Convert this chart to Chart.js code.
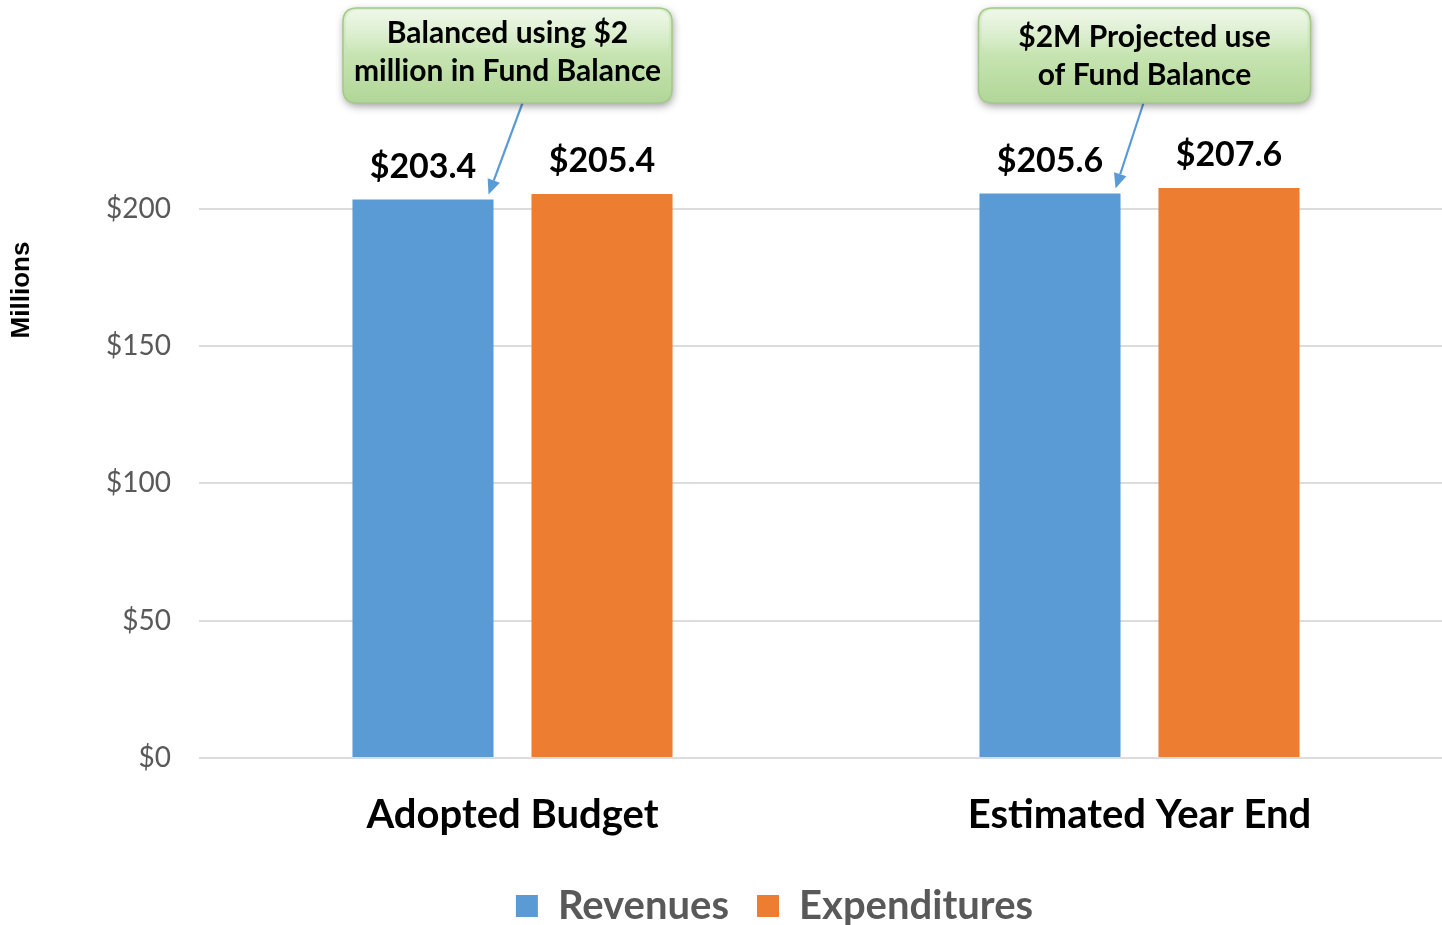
<!DOCTYPE html>
<html>
<head>
<meta charset="utf-8">
<script src="https://cdn.jsdelivr.net/npm/chart.js@4.4.1/dist/chart.umd.min.js"></script>
<style>
  html, body { margin: 0; padding: 0; background: #ffffff; overflow: hidden; }
  #wrap { width: 1456px; height: 936px; position: relative; }
</style>
</head>
<body>
<div id="wrap"><canvas id="c"></canvas></div>
<script>
// ---- Data ----
const categories = ['Adopted Budget', 'Estimated Year End'];
const revenues = [203.4, 205.6];
const expenditures = [205.4, 207.6];
const seriesNames = ['Revenues', 'Expenditures'];
const yTickValues = [0, 50, 100, 150, 200];
const calloutTexts = [
  ['Balanced using $2', 'million in Fund Balance'],
  ['$2M Projected use', 'of Fund Balance']
];
const axisTitle = 'Millions';

const BLUE = '#5b9bd5';
const ORANGE = '#ed7d31';

const dataLabelPlugin = {
  id: 'dataLabels',
  afterDatasetsDraw(chart) {
    const ctx = chart.ctx;
    ctx.save();
    ctx.font = 'bold 34px Lato, "Open Sans", sans-serif';
    ctx.fillStyle = '#000';
    ctx.textAlign = 'center';
    ctx.textBaseline = 'alphabetic';
    chart.data.datasets.forEach((ds, di) => {
      chart.getDatasetMeta(di).data.forEach((bar, i) => {
        ctx.fillText('$' + ds.data[i].toFixed(1), bar.x, bar.y - 22);
      });
    });
    ctx.restore();
  }
};

function roundRect(ctx, x, y, w, h, r) {
  ctx.beginPath();
  ctx.moveTo(x + r, y);
  ctx.lineTo(x + w - r, y);
  ctx.quadraticCurveTo(x + w, y, x + w, y + r);
  ctx.lineTo(x + w, y + h - r);
  ctx.quadraticCurveTo(x + w, y + h, x + w - r, y + h);
  ctx.lineTo(x + r, y + h);
  ctx.quadraticCurveTo(x, y + h, x, y + h - r);
  ctx.lineTo(x, y + r);
  ctx.quadraticCurveTo(x, y, x + r, y);
  ctx.closePath();
}

const calloutPlugin = {
  id: 'callouts',
  afterDatasetsDraw(chart, args, opts) {
    const ctx = chart.ctx;
    const xScale = chart.scales.x;
    opts.items.forEach((item) => {
      const cx = xScale.getPixelForValue(item.index) + item.dx;
      const w = item.width, h = item.height, top = item.top;
      const left = cx - w / 2;
      // arrow
      const bar = chart.getDatasetMeta(item.dataset).data[item.index];
      const tipX = bar.x + bar.width / 2 - 5;
      const tipY = bar.y - 5;
      const tailX = cx + item.tailDx;
      const tailY = top + h;
      ctx.save();
      ctx.strokeStyle = BLUE;
      ctx.fillStyle = BLUE;
      ctx.lineWidth = 2.2;
      const ang = Math.atan2(tipY - tailY, tipX - tailX);
      const headLen = 15, headW = 6.5;
      const bx = tipX - headLen * Math.cos(ang), by = tipY - headLen * Math.sin(ang);
      ctx.beginPath();
      ctx.moveTo(tailX, tailY);
      ctx.lineTo(bx, by);
      ctx.stroke();
      ctx.beginPath();
      ctx.moveTo(tipX, tipY);
      ctx.lineTo(bx + headW * Math.sin(ang), by - headW * Math.cos(ang));
      ctx.lineTo(bx - headW * Math.sin(ang), by + headW * Math.cos(ang));
      ctx.closePath();
      ctx.fill();
      ctx.restore();
      // box
      ctx.save();
      ctx.shadowColor = 'rgba(0,0,0,0.4)';
      ctx.shadowBlur = 8;
      ctx.shadowOffsetX = 1;
      ctx.shadowOffsetY = 3;
      const g = ctx.createLinearGradient(0, top, 0, top + h);
      g.addColorStop(0, '#dcefcf');
      g.addColorStop(0.5, '#c6e4b1');
      g.addColorStop(1, '#b1d697');
      roundRect(ctx, left, top, w, h, 14);
      ctx.fillStyle = g;
      ctx.fill();
      ctx.restore();
      ctx.save();
      roundRect(ctx, left, top, w, h, 14);
      ctx.strokeStyle = '#a3c98a';
      ctx.lineWidth = 1.5;
      ctx.stroke();
      // gloss
      const gl = ctx.createLinearGradient(0, top, 0, top + h * 0.5);
      gl.addColorStop(0, 'rgba(255,255,255,0.55)');
      gl.addColorStop(1, 'rgba(255,255,255,0)');
      roundRect(ctx, left + 3, top + 2, w - 6, h * 0.45, 12);
      ctx.fillStyle = gl;
      ctx.fill();
      // text
      ctx.font = 'bold 30px Lato, "Open Sans", sans-serif';
      ctx.fillStyle = '#000';
      ctx.textAlign = 'center';
      ctx.textBaseline = 'middle';
      item.lines.forEach((ln, j) => {
        ctx.fillText(ln, cx + item.textDx, top + item.textTop + j * 38);
      });
      ctx.restore();
    });
  }
};

const axisTitlePlugin = {
  id: 'sideTitle',
  afterDraw(chart, args, opts) {
    const ctx = chart.ctx;
    ctx.save();
    ctx.translate(opts.x, opts.y);
    ctx.rotate(-Math.PI / 2);
    ctx.font = 'bold 26px "Liberation Sans", Arial, sans-serif';
    ctx.fillStyle = '#000';
    ctx.textAlign = 'center';
    ctx.textBaseline = 'middle';
    ctx.fillText(opts.text, 0, 0);
    ctx.restore();
  }
};

new Chart(document.getElementById('c'), {
  type: 'bar',
  data: {
    labels: categories,
    datasets: [
      { label: seriesNames[0], data: revenues, backgroundColor: BLUE },
      { label: seriesNames[1], data: expenditures, backgroundColor: ORANGE }
    ]
  },
  options: {
    responsive: true,
    maintainAspectRatio: false,
    animation: false,
    layout: { padding: { top: 154, left: 96, right: 3, bottom: 0 } },
    datasets: { bar: { categoryPercentage: 0.571, barPercentage: 0.788 } },
    scales: {
      x: {
        grid: { display: false, drawTicks: false },
        border: { display: false },
        ticks: {
          padding: 33,
          color: '#000',
          font: { family: 'Lato, "Open Sans", sans-serif', size: 40, weight: 'bold' }
        },
        afterFit(s) { s.height = 100; }
      },
      y: {
        min: 0,
        max: 220,
        afterBuildTicks(s) { s.ticks = yTickValues.map(v => ({ value: v })); },
        grid: { color: '#dcdcdc', lineWidth: 2, drawTicks: false },
        border: { display: false },
        ticks: {
          padding: 28,
          color: '#595959',
          font: { family: 'Lato, "Open Sans", sans-serif', size: 28 },
          callback: v => '$' + v
        },
        afterFit(s) { s.width = 103; }
      }
    },
    plugins: {
      legend: {
        position: 'bottom',
        labels: {
          boxWidth: 22,
          boxHeight: 22,
          padding: 28,
          color: '#595959',
          font: { family: 'Lato, "Open Sans", sans-serif', size: 40, weight: 'bold' }
        }
      },
      tooltip: { enabled: false },
      callouts: {
        items: [
          { index: 0, dataset: 0, dx: -5, width: 329, height: 95, top: 8, tailDx: 15, textDx: 0, textTop: 25, lines: calloutTexts[0] },
          { index: 1, dataset: 0, dx: 5, width: 332, height: 95, top: 8, tailDx: -1, textDx: 0, textTop: 29, lines: calloutTexts[1] }
        ]
      },
      sideTitle: { text: axisTitle, x: 22, y: 290 }
    }
  },
  plugins: [dataLabelPlugin, calloutPlugin, axisTitlePlugin]
});
</script>
</body>
</html>
